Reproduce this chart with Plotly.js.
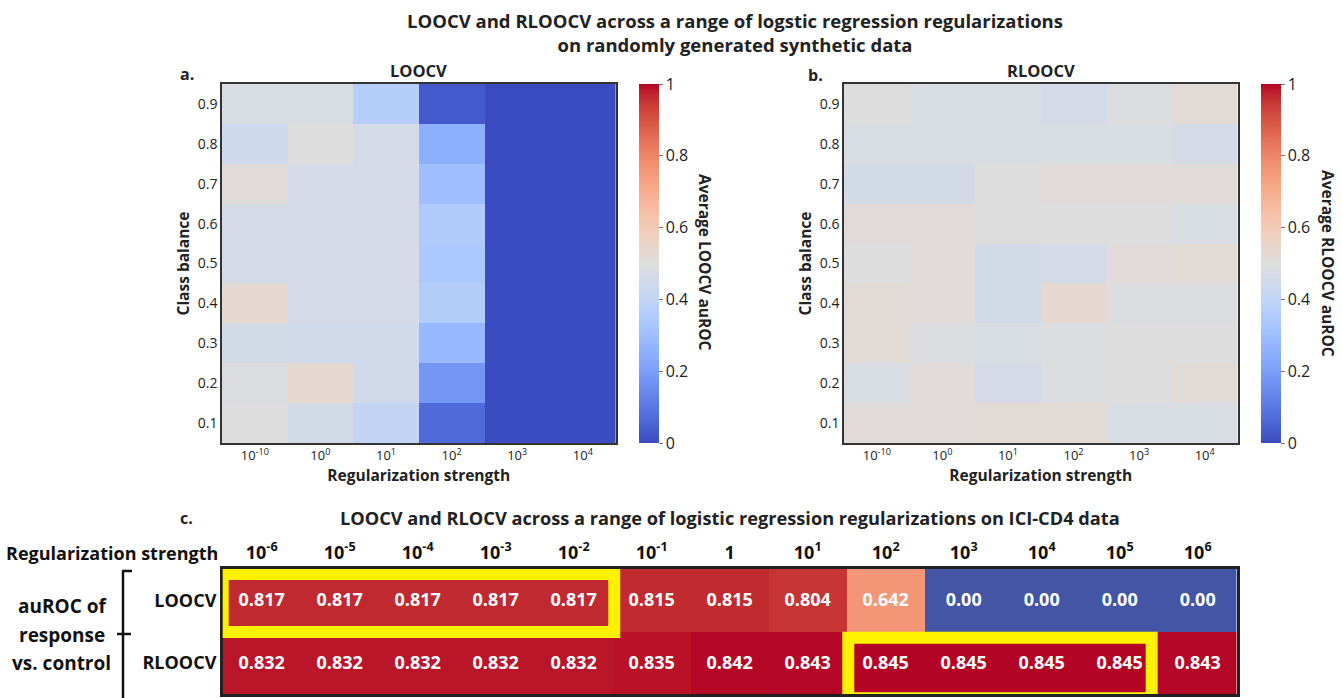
<!DOCTYPE html>
<html><head><meta charset="utf-8">
<script src="https://cdn.plot.ly/plotly-3.0.1.min.js"></script>
<style>html,body{margin:0;padding:0;background:#fff;}#chart{width:1342px;height:698px;}</style>
</head><body><div id="chart"></div>
<script>
// ---------- data ----------
const classBalance = [0.1, 0.2, 0.3, 0.4, 0.5, 0.6, 0.7, 0.8, 0.9];
const syntheticRegLabels = ['10<sup>-10</sup>', '10<sup>0</sup>', '10<sup>1</sup>', '10<sup>2</sup>', '10<sup>3</sup>', '10<sup>4</sup>'];
// rows: class balance 0.1 ... 0.9 ; columns: regularization strengths
const loocvSynthetic = [
  [0.50, 0.46, 0.41, 0.07, 0.00, 0.00],
  [0.49, 0.53, 0.45, 0.18, 0.00, 0.00],
  [0.46, 0.45, 0.45, 0.28, 0.00, 0.00],
  [0.53, 0.47, 0.47, 0.36, 0.00, 0.00],
  [0.47, 0.47, 0.47, 0.34, 0.00, 0.00],
  [0.47, 0.47, 0.47, 0.35, 0.00, 0.00],
  [0.51, 0.47, 0.47, 0.30, 0.00, 0.00],
  [0.44, 0.50, 0.47, 0.25, 0.00, 0.00],
  [0.48, 0.48, 0.37, 0.03, 0.00, 0.00]
];
const rloocvSynthetic = [
  [0.51, 0.51, 0.52, 0.52, 0.48, 0.48],
  [0.48, 0.51, 0.47, 0.49, 0.50, 0.52],
  [0.52, 0.49, 0.48, 0.49, 0.50, 0.50],
  [0.52, 0.51, 0.46, 0.53, 0.49, 0.49],
  [0.50, 0.51, 0.46, 0.47, 0.51, 0.52],
  [0.51, 0.51, 0.50, 0.50, 0.50, 0.48],
  [0.46, 0.46, 0.50, 0.51, 0.51, 0.51],
  [0.48, 0.48, 0.48, 0.48, 0.48, 0.47],
  [0.50, 0.48, 0.48, 0.47, 0.49, 0.52]
];
const iciRegLabels = ['10<sup>-6</sup>', '10<sup>-5</sup>', '10<sup>-4</sup>', '10<sup>-3</sup>', '10<sup>-2</sup>', '10<sup>-1</sup>', '1', '10<sup>1</sup>', '10<sup>2</sup>', '10<sup>3</sup>', '10<sup>4</sup>', '10<sup>5</sup>', '10<sup>6</sup>'];
const loocvICI  = [0.817, 0.817, 0.817, 0.817, 0.817, 0.815, 0.815, 0.804, 0.642, 0.00, 0.00, 0.00, 0.00];
const rloocvICI = [0.832, 0.832, 0.832, 0.832, 0.832, 0.835, 0.842, 0.843, 0.845, 0.845, 0.845, 0.845, 0.843];
const iciRowLabels = ['RLOOCV', 'LOOCV'];
const colorbarTicks = [0, 0.2, 0.4, 0.6, 0.8, 1];
const colorbarTickText = ['0', '0.2', '0.4', '0.6', '0.8', '1'];

// ---------- styles ----------
const W = 1342, H = 698;
const px = v => v / W;
const py = v => 1 - v / H;
const FONT = '"Open Sans", Lato, sans-serif';
const coolwarm = [
  [0.0, 'rgb(59,76,192)'], [0.03125, 'rgb(68,90,204)'], [0.0625, 'rgb(77,104,215)'], [0.09375, 'rgb(87,117,225)'],
  [0.125, 'rgb(98,130,234)'], [0.15625, 'rgb(108,142,241)'], [0.1875, 'rgb(119,154,247)'], [0.21875, 'rgb(130,165,251)'],
  [0.25, 'rgb(141,176,254)'], [0.28125, 'rgb(152,185,255)'], [0.3125, 'rgb(163,194,255)'], [0.34375, 'rgb(174,201,253)'],
  [0.375, 'rgb(184,208,249)'], [0.40625, 'rgb(194,213,244)'], [0.4375, 'rgb(204,217,238)'], [0.46875, 'rgb(213,219,230)'],
  [0.5, 'rgb(221,221,221)'], [0.53125, 'rgb(229,216,209)'], [0.5625, 'rgb(236,211,197)'], [0.59375, 'rgb(241,204,185)'],
  [0.625, 'rgb(245,196,173)'], [0.65625, 'rgb(247,187,160)'], [0.6875, 'rgb(247,177,148)'], [0.71875, 'rgb(247,166,135)'],
  [0.75, 'rgb(244,154,123)'], [0.78125, 'rgb(241,141,111)'], [0.8125, 'rgb(236,127,99)'], [0.84375, 'rgb(229,112,88)'],
  [0.875, 'rgb(222,96,77)'], [0.90625, 'rgb(213,80,66)'], [0.9375, 'rgb(203,62,56)'], [0.96875, 'rgb(192,40,47)'],
  [1.0, 'rgb(180,4,38)']
];
const tableScale = coolwarm.map((s, i) => i === 0 ? [0, 'rgb(68,85,166)'] : s);

const colIdxSyn = syntheticRegLabels.map((_, i) => i);
const colIdxICI = iciRegLabels.map((_, i) => i);
const fmt = v => (v === 0 ? v.toFixed(2) : v.toFixed(3));

const heatY = [py(443), py(84)];
function cbar(xPix) {
  return {
    x: px(xPix), xanchor: 'left', xpad: 0, ypad: 0,
    y: heatY[0], yanchor: 'bottom', len: heatY[1] - heatY[0], lenmode: 'fraction',
    thickness: 20, thicknessmode: 'pixels', outlinewidth: 0,
    tickmode: 'array', tickvals: colorbarTicks, ticktext: colorbarTickText,
    ticks: 'outside', ticklen: 4, tickwidth: 1, tickcolor: '#777',
    tickfont: {family: FONT, size: 16, color: '#222'}
  };
}

const traces = [
  {type: 'heatmap', x: colIdxSyn, y: classBalance, z: loocvSynthetic, xaxis: 'x', yaxis: 'y',
   colorscale: coolwarm, zmin: 0, zmax: 1, colorbar: cbar(639)},
  {type: 'heatmap', x: colIdxSyn, y: classBalance, z: rloocvSynthetic, xaxis: 'x2', yaxis: 'y2',
   colorscale: coolwarm, zmin: 0, zmax: 1, colorbar: cbar(1261)},
  {type: 'heatmap', x: colIdxICI, y: [0, 1], z: [rloocvICI, loocvICI], xaxis: 'x3', yaxis: 'y3',
   colorscale: tableScale, zmin: 0, zmax: 0.845, showscale: false,
   text: [rloocvICI.map(fmt), loocvICI.map(fmt)], texttemplate: '<b>%{text}</b>',
   textfont: {family: FONT, size: 18, color: '#ffffff'}}
];

const heatXAxis = (dom, anchor) => ({
  domain: dom, anchor: anchor, range: [-0.5, 5.5], tickmode: 'array', tickvals: colIdxSyn, ticktext: syntheticRegLabels,
  ticks: '', showline: true, mirror: true, linecolor: '#333', linewidth: 1.5, showgrid: false, zeroline: false,
  tickfont: {family: FONT, size: 13, color: '#222'}, automargin: false,
  title: {text: '<b>Regularization strength</b>', font: {family: FONT, size: 15.5, color: '#222'}, standoff: 2}
});
const heatYAxis = (anchor) => ({
  domain: heatY, anchor: anchor, range: [0.05, 0.95], tickmode: 'array', tickvals: classBalance,
  ticktext: classBalance.map(v => v.toFixed(1)),
  ticks: '', showline: true, mirror: true, linecolor: '#333', linewidth: 1.5, showgrid: false, zeroline: false,
  tickfont: {family: FONT, size: 14, color: '#222'}, automargin: false,
  title: {text: '<b>Class balance</b>', font: {family: FONT, size: 15.5, color: '#222'}, standoff: 4}
});

const ann = (x, y, text, size, extra) => Object.assign({
  xref: 'paper', yref: 'paper', x: px(x), y: py(y), text: text, showarrow: false,
  xanchor: 'center', yanchor: 'middle', font: {family: FONT, size: size, color: '#222'}
}, extra || {});
const dark = s => ({font: {family: FONT, size: s, color: '#111'}});

const layout = {
  width: W, height: H, margin: {l: 0, r: 0, t: 0, b: 0},
  paper_bgcolor: '#ffffff', plot_bgcolor: '#ffffff', showlegend: false,
  font: {family: FONT, color: '#222'},
  title: {text: '<b>LOOCV and RLOOCV across a range of logstic regression regularizations</b><br><b>on randomly generated synthetic data</b>',
          x: px(735), xanchor: 'center', y: py(28), yanchor: 'middle', yref: 'container', xref: 'container',
          font: {family: FONT, size: 18.5, color: '#222'}},
  xaxis: heatXAxis([px(222), px(615.6)], 'y'),
  yaxis: heatYAxis('x'),
  xaxis2: heatXAxis([px(844), px(1237.5)], 'y2'),
  yaxis2: heatYAxis('x2'),
  xaxis3: {domain: [px(222.7), px(1236.7)], anchor: 'y3', side: 'top', range: [-0.5, 12.5],
           tickmode: 'array', tickvals: colIdxICI, ticktext: iciRegLabels.map(t => '<b>' + t + '</b>'),
           ticks: '', showline: true, mirror: true, linecolor: '#222', linewidth: 2.5, showgrid: false, zeroline: false,
           tickfont: {family: FONT, size: 18, color: '#111'}, automargin: false},
  yaxis3: {domain: [py(694), py(569)], anchor: 'x3', range: [-0.5, 1.5], tickmode: 'array', tickvals: [0, 1],
           ticktext: iciRowLabels.map(t => '<b>' + t + '</b>'),
           ticks: '', showline: true, mirror: true, linecolor: '#222', linewidth: 2.5, showgrid: false, zeroline: false,
           tickfont: {family: FONT, size: 18, color: '#111'}, automargin: false},
  annotations: [
    ann(418.8, 70, '<b>LOOCV</b>', 16.5),
    ann(1040.7, 70, '<b>RLOOCV</b>', 16.5),
    ann(187, 74, '<b>a.</b>', 16),
    ann(815, 75, '<b>b.</b>', 16),
    ann(705, 263, '<b>Average LOOCV auROC</b>', 15.5, {textangle: 90}),
    ann(1328, 263, '<b>Average RLOOCV auROC</b>', 15.5, {textangle: 90}),
    ann(187, 518, '<b>c.</b>', 16),
    ann(730, 518, '<b>LOOCV and RLOCV across a range of logistic regression regularizations on ICI-CD4 data</b>', 18.2),
    ann(4, 553, '<b>Regularization strength</b>', 18, Object.assign({xanchor: 'left'}, dark(18))),
    ann(62, 606, '<b>auROC of</b>', 19, dark(19)),
    ann(62, 635, '<b>response</b>', 19, dark(19)),
    ann(61, 663, '<b>vs. control</b>', 19, dark(19))
  ],
  shapes: [
    // bracket
    {type: 'line', xref: 'paper', yref: 'paper', x0: px(123), x1: px(123), y0: py(571), y1: py(700), line: {color: '#111', width: 2.5}},
    {type: 'line', xref: 'paper', yref: 'paper', x0: px(122), x1: px(132), y0: py(571), y1: py(571), line: {color: '#111', width: 2.5}},
    {type: 'line', xref: 'paper', yref: 'paper', x0: px(117), x1: px(131), y0: py(634), y1: py(634), line: {color: '#111', width: 2.5}},
    // yellow highlight boxes
    {type: 'rect', xref: 'x3', yref: 'y3', x0: -0.5, x1: 4.52, y0: 0.49, y1: 1.42, line: {color: '#fff200', width: 12}},
    {type: 'rect', xref: 'x3', yref: 'y3', x0: 7.52, x1: 11.41, y0: -0.57, y1: 0.40, line: {color: '#fff200', width: 12}}
  ]
};

Plotly.newPlot('chart', traces, layout, {displayModeBar: false, responsive: false});
</script></body></html>
